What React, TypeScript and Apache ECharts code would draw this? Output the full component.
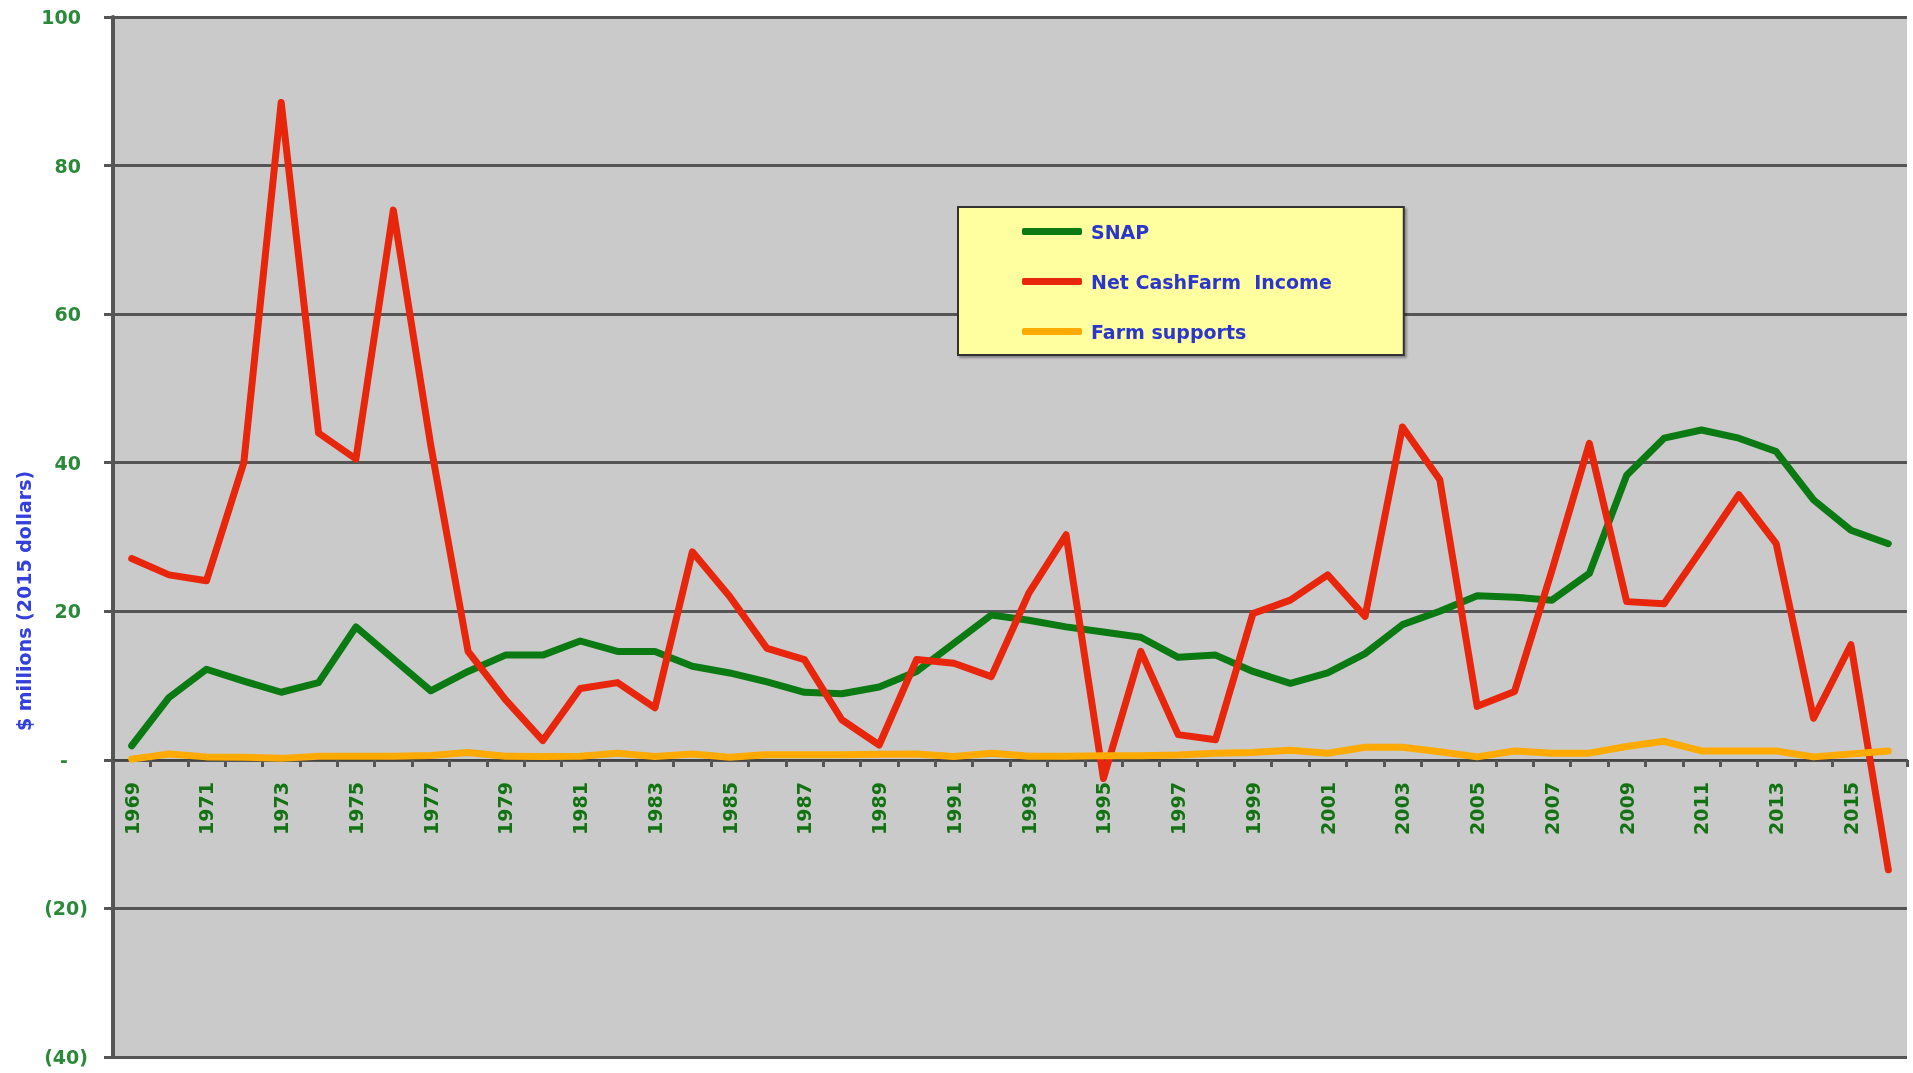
import React, { useEffect, useRef } from "react";
import * as echarts from "echarts";

const years = [
  "1969", "1970", "1971", "1972", "1973", "1974", "1975", "1976", "1977", "1978",
  "1979", "1980", "1981", "1982", "1983", "1984", "1985", "1986", "1987", "1988",
  "1989", "1990", "1991", "1992", "1993", "1994", "1995", "1996", "1997", "1998",
  "1999", "2000", "2001", "2002", "2003", "2004", "2005", "2006", "2007", "2008",
  "2009", "2010", "2011", "2012", "2013", "2014", "2015", "2016",
];

const snap = [
  1.9, 8.4, 12.2, 10.6, 9.1, 10.4, 17.9, 13.6, 9.3, 11.9,
  14.1, 14.1, 16.0, 14.6, 14.6, 12.6, 11.7, 10.5, 9.1, 8.9,
  9.8, 11.9, 15.7, 19.5, 18.8, 17.9, 17.2, 16.5, 13.8, 14.1,
  11.9, 10.3, 11.7, 14.3, 18.2, 20.0, 22.1, 21.9, 21.5, 25.1,
  38.3, 43.3, 44.4, 43.3, 41.5, 35.0, 30.9, 29.1,
];

const netCashFarmIncome = [
  27.1, 24.9, 24.1, 40.0, 88.5, 44.0, 40.5, 74.0, 42.4, 14.6,
  8.1, 2.6, 9.6, 10.4, 7.0, 28.0, 22.0, 15.0, 13.5, 5.4,
  2.0, 13.5, 13.0, 11.2, 22.4, 30.3, -2.5, 14.6, 3.4, 2.7,
  19.7, 21.5, 24.9, 19.3, 44.8, 37.7, 7.2, 9.2, 25.5, 42.6,
  21.3, 21.0, 28.3, 35.7, 29.1, 5.6, 15.5, -14.8,
];

const farmSupports = [
  0.1, 0.8, 0.4, 0.35, 0.2, 0.5, 0.5, 0.5, 0.6, 1.0,
  0.5, 0.45, 0.5, 0.9, 0.45, 0.8, 0.35, 0.7, 0.7, 0.7,
  0.75, 0.8, 0.45, 0.9, 0.5, 0.5, 0.55, 0.55, 0.65, 0.9,
  1.0, 1.3, 0.9, 1.7, 1.7, 1.1, 0.4, 1.2, 0.9, 0.9,
  1.8, 2.5, 1.2, 1.2, 1.2, 0.4, 0.8, 1.2,
];

const seriesNames = ["SNAP", "Net CashFarm  Income", "Farm supports"];
const seriesColors = ["#0b7a12", "#e8260c", "#ffaa00"];
const yAxisTitle = "$ millions (2015 dollars)";

const FONT = "'DejaVu Sans', Verdana, sans-serif";

export default function App() {
  const ref = useRef<HTMLDivElement>(null);

  useEffect(() => {
    if (!ref.current) return;
    const chart = echarts.init(ref.current, null, { renderer: "svg" });
    const labelBase = {
      color: "#2b8a3a",
      fontSize: 19,
      fontWeight: "bold" as const,
      fontFamily: FONT,
    };
    const dataSets = [snap, netCashFarmIncome, farmSupports];
    chart.setOption({
      animation: false,
      grid: {
        left: 113,
        right: 6,
        top: 17,
        bottom: 16,
        show: true,
        backgroundColor: "#cacaca",
        borderWidth: 0,
      },
      legend: {
        orient: "vertical",
        left: 958,
        top: 207,
        padding: [15, 72, 14, 64],
        itemWidth: 60,
        itemHeight: 7,
        itemGap: 31,
        icon: "roundRect",
        backgroundColor: "#ffffa0",
        borderColor: "#333333",
        borderWidth: 2,
        shadowColor: "rgba(0,0,0,0.35)",
        shadowBlur: 2,
        shadowOffsetX: 2,
        shadowOffsetY: 2,
        textStyle: {
          color: "#2b36cc",
          fontSize: 19,
          fontWeight: "bold",
          fontFamily: FONT,
          padding: [5, 0, 0, 4],
        },
        data: seriesNames,
      },
      graphic: [
        {
          type: "text",
          x: 24,
          y: 601,
          rotation: Math.PI / 2,
          style: {
            text: yAxisTitle,
            fill: "#3340dd",
            fontSize: 19,
            fontWeight: "bold",
            fontFamily: FONT,
            align: "center",
            verticalAlign: "middle",
          },
        },
      ],
      xAxis: {
        type: "category",
        data: years,
        boundaryGap: true,
        position: "bottom",
        offset: -297,
        axisLine: { onZero: false, lineStyle: { color: "#444", width: 2 } },
        axisTick: {
          show: true,
          interval: 0,
          length: 7,
          lineStyle: { color: "#555", width: 3 },
        },
        axisLabel: {
          interval: 1,
          rotate: 90,
          margin: 22,
          color: "#137313",
          fontSize: 19,
          fontWeight: "bold",
          fontFamily: FONT,
        },
        splitLine: { show: false },
      },
      yAxis: {
        type: "value",
        min: -40,
        max: 100,
        interval: 20,
        axisLine: { show: true, lineStyle: { color: "#555", width: 4 } },
        axisTick: { show: true, length: 9, lineStyle: { color: "#555", width: 3 } },
        splitLine: { show: true, lineStyle: { color: "#555", width: 3 } },
        axisLabel: {
          margin: 25,
          ...labelBase,
          formatter: (v: number) =>
            v === 0 ? "{z|-}" : v < 0 ? `{n|(${-v})}` : `{p|${v}}`,
          rich: {
            p: { ...labelBase, padding: [0, 7, 0, 0] },
            z: { ...labelBase, padding: [0, 20, 0, 0] },
            n: { ...labelBase },
          },
        },
      },
      series: dataSets.map((d, i) => ({
        name: seriesNames[i],
        type: "line",
        data: d,
        symbol: "none",
        itemStyle: { color: seriesColors[i] },
        lineStyle: {
          color: seriesColors[i],
          width: 7,
          cap: "round",
          join: "round",
        },
      })),
    });
    return () => chart.dispose();
  }, []);

  return (
    <div
      ref={ref}
      style={{ position: "fixed", left: 0, top: 0, width: 1913, height: 1073 }}
    />
  );
}
